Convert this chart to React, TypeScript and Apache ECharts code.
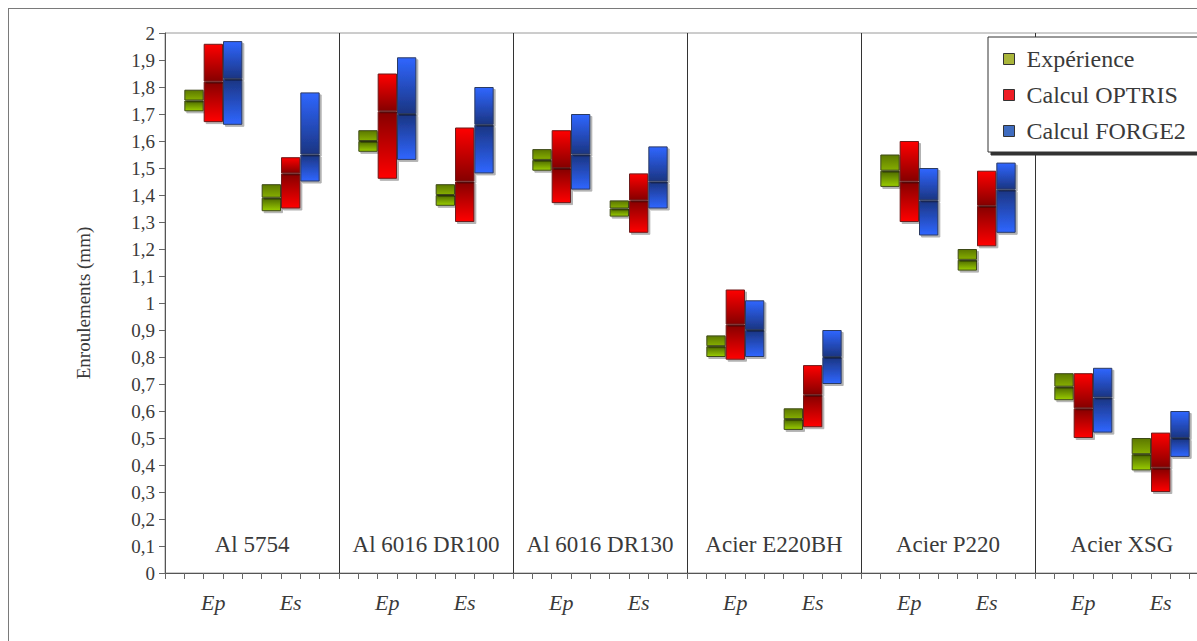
import React, { useEffect, useRef } from "react";
import * as echarts from "echarts";

// Groups (materials) and sub-categories
const groups = ["Al 5754", "Al 6016 DR100", "Al 6016 DR130", "Acier E220BH", "Acier P220", "Acier XSG"];
// 9 slots per group; label shown under the middle bar of each sub-cluster
const slotLabels = ["", "", "Ep", "", "", "", "Es", "", ""];
const seriesNames = ["Expérience", "Calcul OPTRIS", "Calcul FORGE2"];

// Values ordered per group: [Ep, Es]
const expLow = [1.71, 1.34, 1.56, 1.36, 1.49, 1.32, 0.80, 0.53, 1.43, 1.12, 0.64, 0.38];
const expMid = [1.75, 1.39, 1.60, 1.40, 1.53, 1.35, 0.84, 0.57, 1.49, 1.16, 0.69, 0.44];
const expHigh = [1.79, 1.44, 1.64, 1.44, 1.57, 1.38, 0.88, 0.61, 1.55, 1.20, 0.74, 0.50];

const optLow = [1.67, 1.35, 1.46, 1.30, 1.37, 1.26, 0.79, 0.54, 1.30, 1.21, 0.50, 0.30];
const optMid = [1.82, 1.48, 1.71, 1.45, 1.50, 1.38, 0.92, 0.66, 1.45, 1.36, 0.61, 0.39];
const optHigh = [1.96, 1.54, 1.85, 1.65, 1.64, 1.48, 1.05, 0.77, 1.60, 1.49, 0.74, 0.52];

const forLow = [1.66, 1.45, 1.53, 1.48, 1.42, 1.35, 0.80, 0.70, 1.25, 1.26, 0.52, 0.43];
const forMid = [1.83, 1.55, 1.70, 1.66, 1.55, 1.45, 0.90, 0.80, 1.38, 1.42, 0.65, 0.50];
const forHigh = [1.97, 1.78, 1.91, 1.80, 1.70, 1.58, 1.01, 0.90, 1.50, 1.52, 0.76, 0.60];

const lows = [expLow, optLow, forLow];
const mids = [expMid, optMid, forMid];
const highs = [expHigh, optHigh, forHigh];

const SLOTS = slotLabels.length;

const FONT = "'Liberation Serif', 'Times New Roman', serif";
const TEXT = "#3a3a3a";

function spread(values: number[], k: number): (number | string)[] {
  const out: (number | string)[] = [];
  for (let i = 0; i < groups.length * SLOTS; i++) out.push("-");
  groups.forEach((_, g) => {
    [0, 1].forEach((j) => {
      const slot = 1 + 4 * j + k;
      out[g * SLOTS + slot] = values[g * 2 + j];
    });
  });
  return out;
}

function diff(a: number[], b: number[]): number[] {
  return a.map((v, i) => Number((v - b[i]).toFixed(4)));
}

const palette = [
  { bright: "#9ACD00", dark: "#4E6A00", top: "#5C7800", bottomOfUpper: "#86AE00", border: "#3E4A18", legend: "#A9B53A" },
  { bright: "#FF0000", dark: "#850000", top: "#FF0000", bottomOfUpper: "#850000", border: "#6E1A1A", legend: "#EE1D24" },
  { bright: "#2F66FF", dark: "#1B3582", top: "#2F66FF", bottomOfUpper: "#1B3582", border: "#2C3A63", legend: "#3F6CBF" },
];

export default function App() {
  const ref = useRef<HTMLDivElement>(null);

  useEffect(() => {
    if (!ref.current) return;
    const chart = echarts.init(ref.current, undefined, { renderer: "svg" });

    const categories: string[] = [];
    groups.forEach((_, g) => slotLabels.forEach((_, s) => categories.push(`g${g}s${s}`)));

    const series: any[] = [];
    [0, 1, 2].forEach((k) => {
      const p = palette[k];
      const lowerGrad = new echarts.graphic.LinearGradient(0, 0, 0, 1, [
        { offset: 0, color: p.dark },
        { offset: 1, color: p.bright },
      ]);
      const upperGrad = new echarts.graphic.LinearGradient(0, 0, 0, 1, [
        { offset: 0, color: p.top },
        { offset: 1, color: p.bottomOfUpper },
      ]);
      const common = {
        type: "bar",
        stack: "s" + k,
        barWidth: "100%",
        barGap: "-100%",
        xAxisIndex: 0,
        yAxisIndex: 0,
        emphasis: { disabled: true },
      };
      const segStyle = {
        borderColor: p.border,
        borderWidth: 1,
        shadowColor: "rgba(0,0,0,0.3)",
        shadowBlur: 1,
        shadowOffsetX: 2,
        shadowOffsetY: 2,
      };
      series.push({
        ...common,
        name: "_base" + k,
        silent: true,
        data: spread(lows[k], k),
        itemStyle: { color: "rgba(0,0,0,0)", borderWidth: 0 },
      });
      series.push({
        ...common,
        name: seriesNames[k],
        data: spread(diff(mids[k], lows[k]), k),
        itemStyle: { color: lowerGrad, ...segStyle },
      });
      series.push({
        ...common,
        name: seriesNames[k],
        data: spread(diff(highs[k], mids[k]), k),
        itemStyle: { color: upperGrad, ...segStyle },
      });
    });

    chart.setOption({
      animation: false,
      backgroundColor: "#ffffff",
      textStyle: { fontFamily: FONT, color: TEXT },
      grid: {
        left: 156,
        top: 24,
        width: 1044,
        bottom: 96,
        show: true,
        borderColor: "#9a9a9a",
        borderWidth: 1,
        backgroundColor: "transparent",
      },
      legend: {
        data: seriesNames.map((n, k) => ({
          name: n,
          itemStyle: { color: palette[k].legend, borderColor: "#333333", borderWidth: 1 },
        })),
        orient: "vertical",
        left: 979,
        top: 28,
        icon: "rect",
        itemWidth: 11,
        itemHeight: 11,
        itemGap: 12,
        padding: [10, 45, 9, 15],
        backgroundColor: "#ffffff",
        borderColor: "#333333",
        borderWidth: 1,
        shadowColor: "#333333",
        shadowBlur: 0,
        shadowOffsetX: 3,
        shadowOffsetY: 3,
        selectedMode: false,
        textStyle: { fontFamily: FONT, fontSize: 24, color: TEXT, padding: [0, 0, 0, 7] },
      },
      xAxis: [
        {
          type: "category",
          data: categories,
          position: "bottom",
          axisLine: { show: true, lineStyle: { color: "#555555", width: 1 } },
          axisTick: { show: true, interval: 0, length: 6, lineStyle: { color: "#666666" } },
          axisLabel: {
            interval: 0,
            margin: 18,
            formatter: (_: string, i: number) => slotLabels[i % SLOTS],
            fontFamily: FONT,
            fontStyle: "italic",
            fontSize: 22,
            color: TEXT,
          },
          splitLine: { show: false },
        },
        {
          type: "category",
          data: groups,
          position: "bottom",
          axisLine: { show: false },
          axisTick: { show: false },
          axisLabel: {
            inside: true,
            interval: 0,
            margin: 17,
            fontFamily: FONT,
            fontSize: 23,
            color: TEXT,
          },
          splitLine: { show: true, interval: 0, lineStyle: { color: "#333333", width: 1 } },
        },
      ],
      yAxis: {
        type: "value",
        min: 0,
        max: 2,
        interval: 0.1,
        name: "Enroulements (mm)",
        nameLocation: "middle",
        nameGap: 72,
        nameTextStyle: { fontFamily: FONT, fontSize: 19, color: TEXT },
        axisLine: { show: true, lineStyle: { color: "#555555" } },
        axisTick: { show: true, length: 6, lineStyle: { color: "#666666" } },
        axisLabel: {
          margin: 10,
          fontFamily: FONT,
          fontSize: 19,
          color: TEXT,
          formatter: (v: number) => String(Number(v.toFixed(1))).replace(".", ","),
        },
        splitLine: { show: false },
      },
      series,
    });

    return () => chart.dispose();
  }, []);

  return (
    <div
      style={{
        position: "fixed",
        left: 8,
        top: 8,
        width: 1189,
        height: 633,
        overflow: "hidden",
        borderLeft: "1px solid #7a7a7a",
        borderTop: "1px solid #7a7a7a",
        boxSizing: "border-box",
        background: "#ffffff",
      }}
    >
      <div ref={ref} style={{ width: 1260, height: 660 }} />
    </div>
  );
}
